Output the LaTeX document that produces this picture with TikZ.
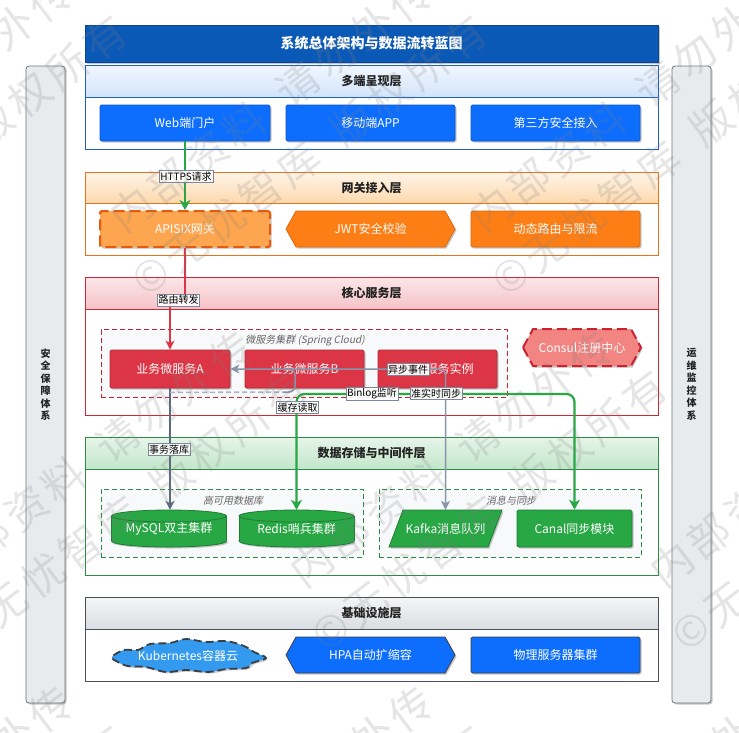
\documentclass[tikz,border=0pt]{standalone}
\usepackage{fontspec}
\setmainfont{Noto Sans CJK SC}
\newfontfamily\itcjk{Noto Sans CJK SC}[FakeSlant=0.2]
\newfontfamily\wmfont{Noto Sans CJK SC}[LetterSpace=12]
\usetikzlibrary{arrows.meta,shadows,shapes.symbols}
\definecolor{cTitle}{HTML}{0B59B7}
\definecolor{cTitleB}{HTML}{0A4694}
\definecolor{cHdr}{HTML}{222222}
\definecolor{cL1}{HTML}{1F5FBF}
\definecolor{cL1t}{HTML}{F1F7FE}
\definecolor{cL1b}{HTML}{D2E4FA}
\definecolor{cBlue}{HTML}{0D6EFD}
\definecolor{cBlueB}{HTML}{0A58CA}
\definecolor{cL2}{HTML}{E8731A}
\definecolor{cL2t}{HTML}{FFF5E8}
\definecolor{cL2b}{HTML}{FDD9AE}
\definecolor{cApisix}{HTML}{FDA64F}
\definecolor{cOrange}{HTML}{FD7E14}
\definecolor{cOrangeB}{HTML}{DC6A0C}
\definecolor{cOrangeD}{HTML}{E8590C}
\definecolor{cL3}{HTML}{CC2936}
\definecolor{cL3t}{HTML}{FCE6E8}
\definecolor{cL3b}{HTML}{F5C3C8}
\definecolor{cRed}{HTML}{DC3545}
\definecolor{cRedB}{HTML}{B02A37}
\definecolor{cConsul}{HTML}{F28482}
\definecolor{cConsulB}{HTML}{C82333}
\definecolor{cL4}{HTML}{2E8B45}
\definecolor{cL4t}{HTML}{E6F5E9}
\definecolor{cL4b}{HTML}{C3E6CB}
\definecolor{cGreen}{HTML}{28A745}
\definecolor{cGreenB}{HTML}{1E7E34}
\definecolor{cL5}{HTML}{4A5058}
\definecolor{cL5t}{HTML}{F4F5F7}
\definecolor{cL5b}{HTML}{DADDE1}
\definecolor{cInfraB}{HTML}{3A3F46}
\definecolor{cK8s}{HTML}{339AF0}
\definecolor{cSide}{HTML}{E8EBEE}
\definecolor{cSideB}{HTML}{6C757D}
\definecolor{cCont}{HTML}{F8F9FA}
\definecolor{cGray}{HTML}{8794A9}
\definecolor{cGrayD}{HTML}{5E6B7E}
\definecolor{cGrayL}{HTML}{A9B4C4}
\definecolor{cLbl}{HTML}{7A8899}
\definecolor{cLblTxt}{HTML}{666666}
\tikzset{
  shad/.style={drop shadow={shadow xshift=1.5pt,shadow yshift=-1.5pt,opacity=.22,fill=black}},
  box/.style={draw,line width=0.8pt,rounded corners=1.5pt,text=white,
    font=\fontsize{12}{14}\selectfont,inner sep=0pt,shad},
  bluebox/.style={box,fill=cBlue,draw=cBlueB},
  orbox/.style={box,fill=cOrange,draw=cOrangeB},
  redbox/.style={box,fill=cRed,draw=cRedB},
  grbox/.style={box,fill=cGreen,draw=cGreenB},
  txtonly/.style={inner sep=0pt,text=white,font=\fontsize{12}{14}\selectfont},
  layerbox/.style={draw=#1,line width=0.8pt,fill=white,minimum width=573pt,inner sep=0pt},
  hdr/.style={draw=#1,line width=0.8pt,minimum width=573pt,minimum height=32pt,
    font=\bfseries\fontsize{12}{14}\selectfont,text=cHdr,inner sep=0pt},
  cont/.style={draw=#1,dashed,dash pattern=on 5pt off 3pt,line width=0.8pt,fill=cCont,inner sep=0pt},
  contlbl/.style={text=cLblTxt,font=\itcjk\fontsize{10}{12}\selectfont,inner sep=0pt},
  sidebar/.style={draw=cSideB,fill=cSide,rounded corners=3pt,line width=0.8pt,align=center,
    minimum width=39pt,minimum height=637pt,font=\bfseries\fontsize{10}{12.5}\selectfont,text=cHdr,shad},
  lbl/.style={fill=white,fill opacity=0.9,text opacity=1,draw=cLbl,line width=0.5pt,
    inner sep=1.2pt,font=\fontsize{10}{11}\selectfont,text=black},
  tipg/.tip={Stealth[length=10pt,width=11pt,inset=3pt]},
  tips/.tip={Stealth[length=9pt,width=9pt,inset=2.5pt]},
  gconn/.style={draw=cGreen,line width=2.2pt},
  rconn/.style={draw=cRed,line width=1.5pt},
  sconn/.style={draw=cGray,line width=1.5pt},
  dconn/.style={draw=cGrayD,line width=1.5pt},
  wm/.style={rotate=37,align=center,text=gray,text opacity=0.2,inner sep=0pt,
    font=\wmfont\fontsize{42}{64}\selectfont},
}
\begin{document}
\begin{tikzpicture}[x=1pt,y=-1pt]
\useasboundingbox (0,0) rectangle (739,732);
\fill[white] (0,0) rectangle (739,732);

% side bars
\node[sidebar] (sec) at (45.5,384.5) {安\\全\\保\\障\\体\\系};
\node[sidebar] (ops) at (691.5,384.5) {运\\维\\监\\控\\体\\系};

% title
\node[draw=cTitleB,fill=cTitle,line width=0.8pt,minimum width=573pt,minimum height=37pt,
  inner sep=0pt,text=white,font=\bfseries\fontsize{14}{16}\selectfont,shad]
  (title) at (371.5,43.5) {系统总体架构与数据流转蓝图};

% layer 1
\node[layerbox=cL1,minimum height=84pt] (L1) at (371.5,107) {};
\node[hdr=cL1,top color=cL1t,bottom color=cL1b] (L1h) at (371.5,81) {多端呈现层};
\node[bluebox,minimum width=170pt,minimum height=36pt] (web) at (185,123) {Web端门户};
\node[bluebox,minimum width=169pt,minimum height=36pt] (app) at (370.5,123) {移动端APP};
\node[bluebox,minimum width=169pt,minimum height=36pt] (third) at (555.5,123) {第三方安全接入};

% layer 2
\node[layerbox=cL2,minimum height=83pt] (L2) at (371.5,213.5) {};
\node[hdr=cL2,top color=cL2t,bottom color=cL2b,minimum height=31pt] (L2h) at (371.5,187.5) {网关接入层};
\node[box,fill=cApisix,draw=cOrangeD,dash pattern=on 11pt off 5pt,line width=2pt,
  minimum width=170pt,minimum height=36pt] (apisix) at (185,229) {APISIX网关};
\path[fill=cOrange,draw=cOrangeB,line width=0.8pt,shad]
  (286,229) -- (296,211) -- (445,211) -- (455,229) -- (445,247) -- (296,247) -- cycle;
\node[txtonly,minimum width=169pt,minimum height=36pt] (jwt) at (370.5,229) {JWT安全校验};
\node[orbox,minimum width=169pt,minimum height=36pt] (route) at (555.5,229) {动态路由与限流};

% layer 3
\node[layerbox=cL3,minimum height=138pt] (L3) at (371.5,346) {};
\node[hdr=cL3,top color=cL3t,bottom color=cL3b] (L3h) at (371.5,293) {核心服务层};
\node[cont=cConsulB,minimum width=406pt,minimum height=68pt] (cluster) at (304,363.5) {};
\node[contlbl] (clusterlbl) at (305,341) {微服务集群 (Spring Cloud)};
\node[redbox,minimum width=120pt,minimum height=38pt] (A) at (170,369) {业务微服务A};
\node[redbox,minimum width=119pt,minimum height=38pt] (B) at (304.5,369) {业务微服务B};
\node[redbox,minimum width=119pt,minimum height=38pt] (C) at (437.5,369) {更多服务实例};
\path[fill=cConsul,draw=cConsulB,line width=2pt,dash pattern=on 10pt off 5pt,shad]
  (523,347.5) -- (533,329) -- (631,329) -- (641,347.5) -- (631,366) -- (533,366) -- cycle;
\node[txtonly,minimum width=118pt,minimum height=37pt] (consul) at (582,347.5) {Consul注册中心};

% layer 4
\node[layerbox=cL4,minimum height=138pt] (L4) at (371.5,506) {};
\node[hdr=cL4,top color=cL4t,bottom color=cL4b] (L4h) at (371.5,453) {数据存储与中间件层};
\node[cont=cL4,minimum width=262pt,minimum height=68pt] (dbgrp) at (232,523) {};
\node[contlbl] (dbgrplbl) at (233,501) {高可用数据库};
\node[cont=cL4,minimum width=262pt,minimum height=68pt] (mqgrp) at (510,523) {};
\node[contlbl] (mqgrplbl) at (511,501) {消息与同步};
% cylinders
\foreach \cx in {169,296.5}{
  \path[fill=cGreen,draw=cGreenB,line width=0.8pt,shad] (\cx,541) ellipse [x radius=57.5pt,y radius=6pt];
  \fill[cGreen] (\cx-57.5,516) rectangle (\cx+57.5,541);
  \draw[cGreenB,line width=0.8pt] (\cx-57.5,516) -- (\cx-57.5,541) (\cx+57.5,516) -- (\cx+57.5,541);
  \path[fill=cGreen,draw=cGreenB,line width=0.8pt] (\cx,516) ellipse [x radius=57.5pt,y radius=6pt];
}
\node[txtonly,minimum width=115pt,minimum height=37pt] (mysql) at (169,528.5) {MySQL双主集群};
\node[txtonly,minimum width=115pt,minimum height=37pt] (redis) at (296.5,528.5) {Redis哨兵集群};
\path[fill=cGreen,draw=cGreenB,line width=0.8pt,shad]
  (403,510) -- (502,510) -- (488,547) -- (389,547) -- cycle;
\node[txtonly,minimum width=113pt,minimum height=37pt] (kafka) at (445.5,528.5) {Kafka消息队列};
\node[grbox,minimum width=115pt,minimum height=37pt] (canal) at (574.5,528.5) {Canal同步模块};

% layer 5
\node[layerbox=cL5,minimum height=84pt] (L5) at (371.5,639) {};
\node[hdr=cL5,top color=cL5t,bottom color=cL5b] (L5h) at (371.5,613) {基础设施层};
\path[fill=cK8s,draw=cInfraB,line width=1.8pt,dash pattern=on 8pt off 4pt,shad]
  plot[smooth cycle,tension=0.6] coordinates {
   (112,657) (124,650) (138,650) (150,644) (170,643) (186,639) (206,642) (226,641) (244,646)
   (254,652) (266,658) (252,663) (246,668) (226,669) (208,672) (186,670) (166,672) (146,667)
   (128,666) (118,662)};
\node[txtonly,minimum width=154pt,minimum height=32pt] (k8s) at (188,655.5) {Kubernetes容器云};
\path[fill=cBlue,draw=cInfraB,line width=0.8pt,shad]
  (286,655) -- (296,637) -- (445,637) -- (455,655) -- (445,673) -- (296,673) -- cycle;
\node[txtonly,minimum width=169pt,minimum height=36pt] (hpa) at (370.5,655) {HPA自动扩缩容};
\node[box,fill=cBlue,draw=cInfraB,minimum width=169pt,minimum height=36pt] (phys) at (555.5,655) {物理服务器集群};

% connectors
\coordinate (gj) at (0,394);
\coordinate (dj) at (295,392);
\coordinate (dk) at (295,369);
\coordinate (dl) at (283,369);
\draw[gconn,-tipg] (web.south) -- (apisix.north);
\draw[rconn,-tips] (apisix.south) -- ++(0,53) -| (A.north);
\draw[dconn,-tips] (A.south) -- (A.south |- mysql.north);
\draw[cGrayL,line width=1.5pt,dash pattern=on 5pt off 3pt] (A.south) ++(0,4) -- (283,392);
\draw[sconn,rounded corners=6pt] (283,392) -- (dj) -- (dk) -- (dl);
\draw[sconn,tips-tips,rounded corners=6pt] (kafka.north) -- (kafka.north |- A.east) -- (A.east);
\draw[gconn,tipg-tipg,rounded corners=8pt] (redis.north) -- (redis.north |- gj) -- (canal.north |- gj) -- (canal.north);

% connector labels
\node[lbl] (l1) at (186,176.5) {HTTPS请求};
\node[lbl] (l2) at (178.5,300) {路由转发};
\node[lbl] (l3) at (169,449.5) {事务落库};
\node[lbl] (l4) at (297.5,407.5) {缓存读取};
\node[lbl] (l5) at (408,369.5) {异步事件};
\node[lbl] (l6) at (372,393.5) {Binlog监听};
\node[lbl] (l7) at (436,393.5) {准实时同步};

% watermark
\foreach \cx/\cy [count=\i] in {-70/130,290/130,650/130,110/485,470/485,830/485,-70/840,290/840,650/840}{
  \node[wm] (wm\i) at (\cx,\cy) {内部资料\hspace{0.6em}请勿外传\\©无忧智库\hspace{0.6em}版权所有};
}
\end{tikzpicture}
\end{document}
